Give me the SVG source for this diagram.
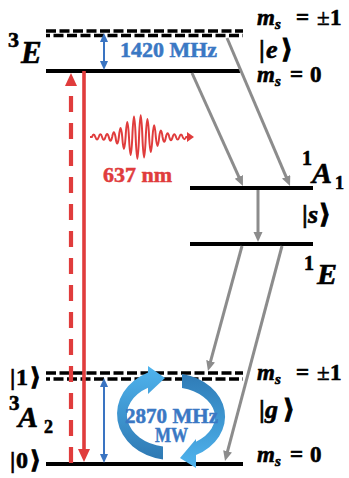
<svg xmlns="http://www.w3.org/2000/svg" width="349" height="478" viewBox="0 0 349 478">
<defs>
<style>
.lvl{stroke:#000;stroke-width:4;fill:none}
.dash{stroke:#000;stroke-width:3.4;fill:none;stroke-dasharray:10 3.5}
.t{font-family:"Liberation Serif","DejaVu Serif",serif;font-weight:bold;fill:#000;stroke:#000;stroke-width:0.6}
.it{font-style:italic}
.k{font-family:"DejaVu Sans",sans-serif;stroke-width:1}
.gray{stroke:#8c8c8c;stroke-width:3;fill:none;marker-end:url(#ag)}
.blue{stroke:#3a74c2;stroke-width:2;fill:none;marker-start:url(#ab);marker-end:url(#ab)}
.bt{font-family:"Liberation Serif","DejaVu Serif",serif;font-weight:bold;fill:#3a78c4;stroke:#3a78c4;stroke-width:0.5;font-size:21px}
.rt{font-family:"Liberation Serif","DejaVu Serif",serif;font-weight:bold;fill:#e03c3c;stroke:#e03c3c;stroke-width:0.5;font-size:21px}
</style>
<marker id="ag" markerUnits="userSpaceOnUse" markerWidth="10" markerHeight="10" refX="3" refY="4.5" orient="auto"><path d="M0,0 L10,4.5 L0,9 z" fill="#8c8c8c"/></marker>
<marker id="ab" markerUnits="userSpaceOnUse" markerWidth="10" markerHeight="9" refX="3" refY="4" orient="auto-start-reverse"><path d="M0,0 L9,4 L0,8 z" fill="#3a74c2"/></marker>
<marker id="ar" markerUnits="userSpaceOnUse" markerWidth="14" markerHeight="13" refX="4" refY="6" orient="auto"><path d="M0,0 L13,6 L0,12 z" fill="#e03c3c"/></marker>
<linearGradient id="gl" x1="0" y1="0" x2="0" y2="1"><stop offset="0" stop-color="#4fb4ee"/><stop offset="1" stop-color="#2f79b3"/></linearGradient>
<linearGradient id="gr" x1="0" y1="0" x2="0" y2="1"><stop offset="0" stop-color="#2f7bb6"/><stop offset="1" stop-color="#4fb4ee"/></linearGradient>
</defs>

<g id="excited-3E">
<line class="dash" x1="46" y1="31" x2="243" y2="31"/>
<line class="dash" x1="46" y1="35.5" x2="243" y2="35.5" style="stroke-dashoffset:6"/>
<line class="lvl" x1="46" y1="71" x2="240" y2="71"/>
<text class="t" x="8" y="47" font-size="22">3</text>
<text class="t it" x="21" y="63" font-size="31">E</text>
<text class="t" y="25" font-size="23"><tspan class="it" x="257">m</tspan><tspan class="it" x="275" dy="4" font-size="15">s</tspan><tspan x="296" dy="-4">=</tspan><tspan x="317" font-weight="normal">±</tspan><tspan x="330">1</tspan></text>
<text class="t" y="58" font-size="26"><tspan x="259">|</tspan><tspan class="it" x="266">e</tspan><tspan class="k" x="281">⟩</tspan></text>
<text class="t" y="82" font-size="23"><tspan class="it" x="257">m</tspan><tspan class="it" x="275" dy="4" font-size="15">s</tspan><tspan x="290" dy="-4">=</tspan><tspan x="310">0</tspan></text>
</g>

<g id="singlet-1A1">
<line class="lvl" x1="190" y1="188" x2="313" y2="188"/>
<text class="t" x="302" y="165" font-size="20">1</text>
<text class="t it" x="312" y="183" font-size="30">A</text>
<text class="t" x="335" y="189" font-size="18">1</text>
<text class="t" y="223" font-size="26"><tspan x="302">|</tspan><tspan class="it" x="308">s</tspan><tspan class="k" x="319">⟩</tspan></text>
</g>

<g id="singlet-1E">
<line class="lvl" x1="190" y1="244" x2="313" y2="244"/>
<text class="t" x="304" y="270" font-size="20">1</text>
<text class="t it" x="317" y="284" font-size="30">E</text>
</g>

<g id="ground-3A2">
<line class="dash" x1="46" y1="373" x2="243" y2="373"/>
<line class="dash" x1="46" y1="379" x2="243" y2="379" style="stroke-dashoffset:6"/>
<line class="lvl" x1="46" y1="464" x2="243" y2="464"/>
<text class="t" y="385" font-size="24"><tspan x="10">|</tspan><tspan x="16">1</tspan><tspan class="k" x="30">⟩</tspan></text>
<text class="t" x="9" y="410" font-size="21">3</text>
<text class="t it" x="18" y="427" font-size="30">A</text>
<text class="t" x="44" y="433" font-size="18">2</text>
<text class="t" y="468" font-size="24"><tspan x="10">|</tspan><tspan x="16">0</tspan><tspan class="k" x="30">⟩</tspan></text>
<text class="t" y="380" font-size="23"><tspan class="it" x="257">m</tspan><tspan class="it" x="275" dy="4" font-size="15">s</tspan><tspan x="296" dy="-4">=</tspan><tspan x="317" font-weight="normal">±</tspan><tspan x="330">1</tspan></text>
<text class="t" y="418" font-size="26"><tspan x="259">|</tspan><tspan class="it" x="265">g</tspan><tspan class="k" x="283">⟩</tspan></text>
<text class="t" y="462" font-size="23"><tspan class="it" x="257">m</tspan><tspan class="it" x="275" dy="4" font-size="15">s</tspan><tspan x="290" dy="-4">=</tspan><tspan x="310">0</tspan></text>
</g>

<g id="connectors">
<line class="gray" x1="192" y1="73" x2="240.1" y2="179.6"/>
<line class="gray" x1="227" y1="38" x2="287.3" y2="179.6"/>
<line class="gray" x1="258" y1="190" x2="258" y2="235"/>
<line class="gray" x1="242" y1="246" x2="209.8" y2="364.2"/>
<line class="gray" x1="282" y1="246" x2="226.8" y2="454.2"/>
<line class="blue" x1="104" y1="39" x2="104" y2="64"/>
<line class="blue" x1="104" y1="384" x2="104" y2="457"/>
<line x1="71" y1="463" x2="71" y2="82" stroke="#e03c3c" stroke-width="4.2" stroke-dasharray="16 11" marker-end="url(#ar)"/>
<line x1="84" y1="71" x2="84" y2="453" stroke="#e03c3c" stroke-width="3.6" marker-end="url(#ar)"/>
</g>

<g id="laser">
<path transform="translate(0,1)" fill="none" stroke="#e03c3c" stroke-width="2" stroke-linejoin="round" d="M90,136 L92,136 Q93.68,131 95.36,136 Q97.04,141 98.72,136 Q100.4,130.6 102.08,136 Q103.76,141.6 105.44,136 Q107.12,129.8 108.8,136 Q110.48,143.6 112.16,136 Q113.84,126.34 115.52,136 Q117.2,149.22 118.88,136 Q120.56,118 122.24,136 Q123.92,159.8 125.6,136 Q127.28,105.8 128.96,136 Q130.64,172.2 132.32,136 Q134,95 135.68,136 Q137.36,179.6 139.04,136 Q140.72,92.4 142.4,136 Q144.08,177 145.76,136 Q147.44,99.9 149.12,136 Q150.8,166 152.48,136 Q154.16,112.4 155.84,136 Q157.52,153.8 159.2,136 Q160.88,122.88 162.56,136 Q164.24,145.6 165.92,136 Q167.6,128.4 169.28,136 Q170.96,142.4 172.64,136 Q174.32,130.4 176,136 Q177.68,141.2 179.36,136 Q181.04,131 182.72,136 Q184.4,140.6 186.08,136 L188,136"/>
<path d="M187,132 L194,137 L187,142 z" fill="#e03c3c"/>
<text class="rt" x="103" y="182" textLength="69" lengthAdjust="spacingAndGlyphs">637 nm</text>
</g>

<g id="zfs-label">
<text class="bt" x="120" y="57" textLength="97" lengthAdjust="spacingAndGlyphs">1420 MHz</text>
</g>

<g id="mw">
<path d="M163,459.5 A54,46 0 0 1 148,372.4 L148,366 L165,378 L148,394 L148,387.7 A44,32 0 0 0 163,446.5 Z" fill="url(#gl)"/>
<path d="M182,373.9 A54,43.5 0 0 1 196,455.1 L196,468 L180,458 L196,439 L196,441.7 A44,30 0 0 0 182,388 Z" fill="url(#gr)"/>
<text class="bt" x="125" y="423" textLength="93" lengthAdjust="spacingAndGlyphs">2870 MHz</text>
<text class="bt" x="155" y="442" textLength="33" lengthAdjust="spacingAndGlyphs">MW</text>
</g>
</svg>
